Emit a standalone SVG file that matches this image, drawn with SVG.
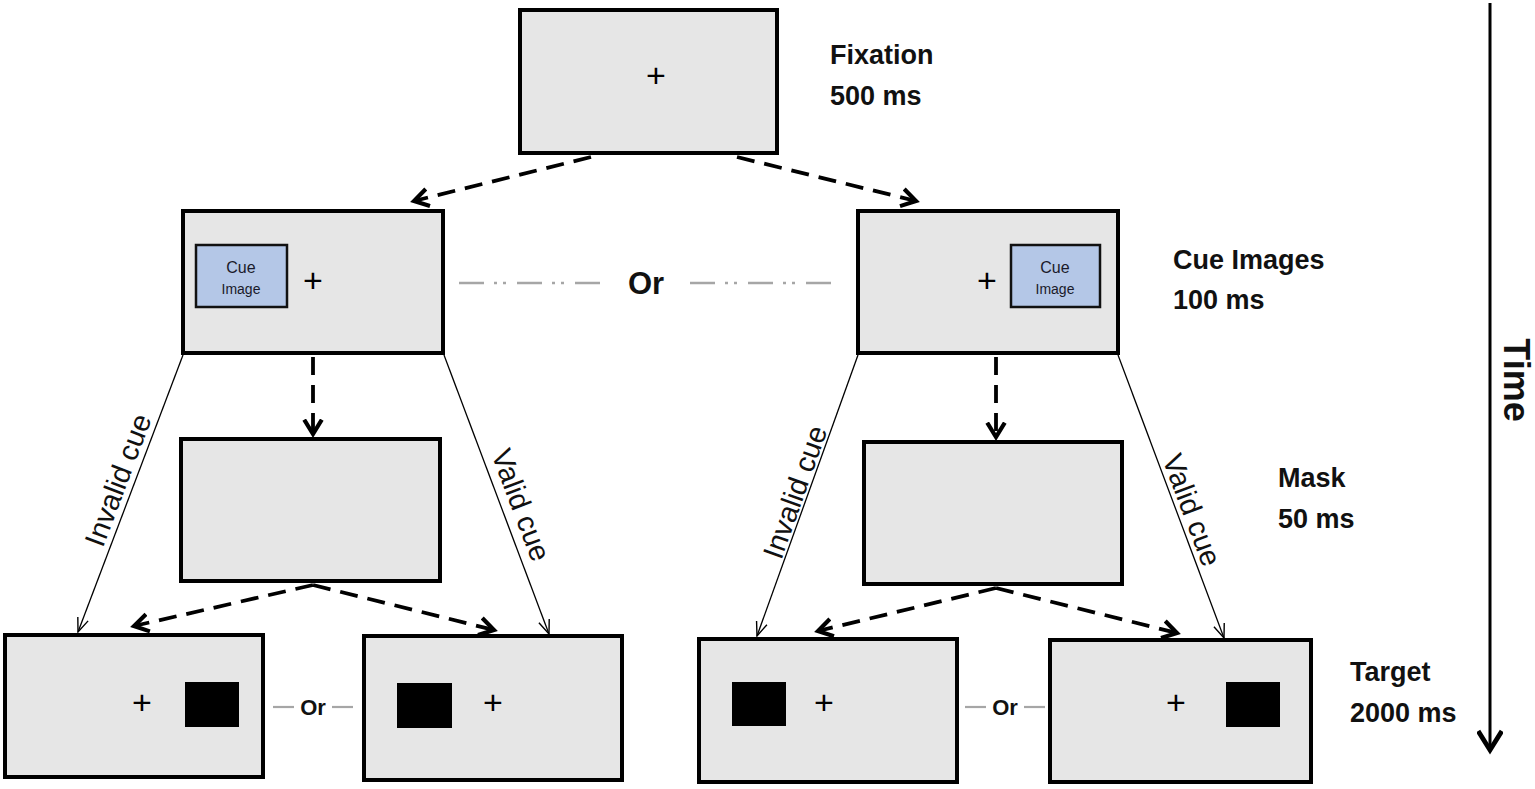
<svg xmlns="http://www.w3.org/2000/svg" width="1535" height="789" viewBox="0 0 1535 789">
<style>
.scr{fill:#e6e6e6;stroke:#000;stroke-width:4}
.cue{fill:#b4c7e7;stroke:#111;stroke-width:2.5}
.blk{fill:#000}
.plus{font-family:"Liberation Sans",Arial,sans-serif;font-size:34px;fill:#000;text-anchor:middle;dominant-baseline:central}
.lbl{font-family:"Liberation Sans",Arial,sans-serif;font-size:27px;font-weight:bold;fill:#111}
.time{font-family:"Liberation Sans",Arial,sans-serif;font-size:36px;font-weight:bold;fill:#111;text-anchor:middle;dominant-baseline:central}
.cuet{font-family:"Liberation Sans",Arial,sans-serif;fill:#1a1a2a;text-anchor:middle}
.side{font-family:"Liberation Sans",Arial,sans-serif;font-size:29px;fill:#111;text-anchor:middle;dominant-baseline:central}
.or{font-family:"Liberation Sans",Arial,sans-serif;font-weight:bold;fill:#111;text-anchor:middle;dominant-baseline:central}
.dash{stroke:#000;stroke-width:3.8;stroke-dasharray:18 10;fill:none}
.thin{stroke:#000;stroke-width:1.3;fill:none}
.gray{stroke:#a6a6a6;stroke-width:2.2;fill:none}
.dd{stroke:#a6a6a6;stroke-width:2.4;fill:none;stroke-dasharray:25 10 3 6 3 11}
</style>
<defs>
<marker id="thick" markerUnits="userSpaceOnUse" markerWidth="22" markerHeight="22" refX="14" refY="9" orient="auto" viewBox="0 0 20 18">
<path d="M1,1 L14,9 L1,17" fill="none" stroke="#000" stroke-width="3.8" stroke-linejoin="miter"/>
</marker>
<marker id="thinA" markerUnits="userSpaceOnUse" markerWidth="18" markerHeight="14" refX="15" refY="6" orient="auto" viewBox="0 0 18 12">
<path d="M1,0.5 L15,6 L1,11.5" fill="none" stroke="#000" stroke-width="1.4"/>
</marker>
<marker id="timeA" markerUnits="userSpaceOnUse" markerWidth="26" markerHeight="26" refX="18" refY="11" orient="auto" viewBox="0 0 22 22">
<path d="M2,1 L18,11 L2,21" fill="none" stroke="#000" stroke-width="4"/>
</marker>
</defs>

<g id="connectors">
<line class="dash" x1="591" y1="157" x2="414" y2="201" marker-end="url(#thick)"/>
<line class="dash" x1="737" y1="157" x2="916" y2="201" marker-end="url(#thick)"/>
<line class="dash" x1="313" y1="357" x2="313" y2="434" marker-end="url(#thick)"/>
<line class="dash" x1="996" y1="357" x2="996" y2="437" marker-end="url(#thick)"/>
<line class="dash" x1="313" y1="585" x2="134" y2="626" marker-end="url(#thick)"/>
<line class="dash" x1="313" y1="585" x2="494" y2="630" marker-end="url(#thick)"/>
<line class="dash" x1="996" y1="588" x2="818" y2="631" marker-end="url(#thick)"/>
<line class="dash" x1="996" y1="588" x2="1177" y2="633" marker-end="url(#thick)"/>
<line class="thin" x1="183" y1="355" x2="78" y2="632" marker-end="url(#thinA)"/>
<line class="thin" x1="444" y1="355" x2="549" y2="634" marker-end="url(#thinA)"/>
<line class="thin" x1="858" y1="355" x2="757" y2="636" marker-end="url(#thinA)"/>
<line class="thin" x1="1118" y1="355" x2="1224" y2="638" marker-end="url(#thinA)"/>
<line class="dd" x1="459" y1="283" x2="600" y2="283"/>
<line class="dd" x1="690" y1="283" x2="831" y2="283"/>
<line class="gray" x1="273" y1="707" x2="294" y2="707"/>
<line class="gray" x1="332" y1="707" x2="353" y2="707"/>
<line class="gray" x1="965" y1="707" x2="986" y2="707"/>
<line class="gray" x1="1024" y1="707" x2="1045" y2="707"/>
<line x1="1490" y1="3" x2="1490" y2="750" stroke="#000" stroke-width="3" marker-end="url(#timeA)"/>
</g>

<g id="fixation">
<rect class="scr" x="520" y="10" width="257" height="143"/>
<text class="plus" x="656" y="75">+</text>
</g>
<g id="fixation-label">
<text class="lbl" x="830" y="64">Fixation</text>
<text class="lbl" x="830" y="105">500 ms</text>
</g>

<g id="cue-left">
<rect class="scr" x="183" y="211" width="260" height="142"/>
<rect class="cue" x="196" y="245" width="91" height="62"/>
<text class="cuet" x="241" y="273" font-size="16">Cue</text>
<text class="cuet" x="241" y="294" font-size="14">Image</text>
<text class="plus" x="313" y="280">+</text>
</g>
<g id="or-cue">
<text class="or" x="646" y="283" font-size="31">Or</text>
</g>
<g id="cue-right">
<rect class="scr" x="858" y="211" width="260" height="142"/>
<rect class="cue" x="1011" y="245" width="89" height="62"/>
<text class="cuet" x="1055" y="273" font-size="16">Cue</text>
<text class="cuet" x="1055" y="294" font-size="14">Image</text>
<text class="plus" x="987" y="280">+</text>
</g>
<g id="cue-label">
<text class="lbl" x="1173" y="269">Cue Images</text>
<text class="lbl" x="1173" y="309">100 ms</text>
</g>

<g id="mask-left">
<rect class="scr" x="181" y="439" width="259" height="142"/>
</g>
<g id="mask-right">
<rect class="scr" x="864" y="442" width="258" height="142"/>
</g>
<g id="mask-label">
<text class="lbl" x="1278" y="487">Mask</text>
<text class="lbl" x="1278" y="528">50 ms</text>
</g>

<g id="cue-validity-labels">
<text class="side" transform="translate(118,480) rotate(-69.3)">Invalid cue</text>
<text class="side" transform="translate(521,505) rotate(69.3)">Valid cue</text>
<text class="side" transform="translate(795,492) rotate(-70.4)">Invalid cue</text>
<text class="side" transform="translate(1192,510) rotate(69.4)">Valid cue</text>
</g>

<g id="target-1">
<rect class="scr" x="5" y="635" width="258" height="142"/>
<text class="plus" x="142" y="702">+</text>
<rect class="blk" x="185" y="682" width="54" height="45"/>
</g>
<g id="or-left">
<text class="or" x="313" y="707" font-size="22">Or</text>
</g>
<g id="target-2">
<rect class="scr" x="364" y="636" width="258" height="144"/>
<rect class="blk" x="397" y="683" width="55" height="45"/>
<text class="plus" x="493" y="702">+</text>
</g>
<g id="target-3">
<rect class="scr" x="699" y="639" width="258" height="143"/>
<rect class="blk" x="732" y="682" width="54" height="44"/>
<text class="plus" x="824" y="702">+</text>
</g>
<g id="or-right">
<text class="or" x="1005" y="707" font-size="22">Or</text>
</g>
<g id="target-4">
<rect class="scr" x="1050" y="640" width="261" height="142"/>
<text class="plus" x="1176" y="702">+</text>
<rect class="blk" x="1226" y="682" width="54" height="45"/>
</g>
<g id="target-label">
<text class="lbl" x="1350" y="681">Target</text>
<text class="lbl" x="1350" y="722">2000 ms</text>
</g>

<g id="time-label">
<text class="time" transform="translate(1516,380) rotate(90)">Time</text>
</g>
</svg>
